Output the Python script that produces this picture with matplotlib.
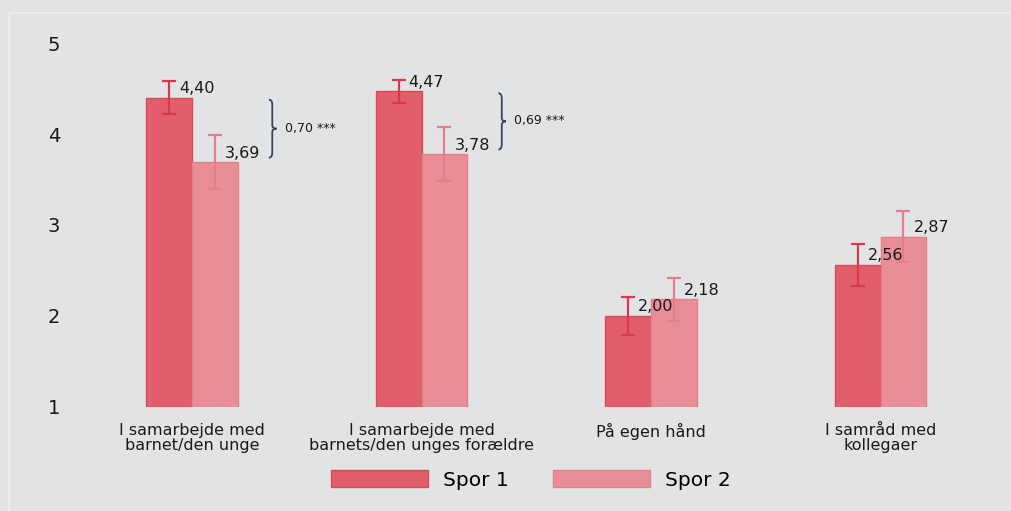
import matplotlib
matplotlib.use("Agg")
import matplotlib.pyplot as plt
from matplotlib.path import Path
from matplotlib.patches import PathPatch, Patch
from matplotlib.lines import Line2D
import numpy as np

categories = [
    'I samarbejde med\nbarnet/den unge',
    'I samarbejde med\nbarnets/den unges forældre',
    'På egen hånd',
    'I samråd med\nkollegaer',
]
spor1 = [4.40, 4.47, 2.00, 2.56]
spor2 = [3.69, 3.78, 2.18, 2.87]
spor1_err = [0.18, 0.13, 0.21, 0.23]
spor2_err = [0.30, 0.30, 0.24, 0.28]
diff_groups = [0, 1]
diff_labels = ['0,70 ***', '0,69 ***']
series_names = ['Spor 1', 'Spor 2']

BG = '#e2e3e5'
C1 = '#e15e6a'
C2 = '#e98e97'
E1 = '#d8384b'
E2 = '#e67d88'
BRACE = '#3b4262'

W, H = 1011, 511
fig = plt.figure(figsize=(W / 100, H / 100), dpi=100, facecolor=BG)

# faint inner frame
fig.add_artist(Line2D([9 / W, 1], [1 - 13 / H, 1 - 13 / H], transform=fig.transFigure,
                      color='#ebecee', lw=1.5))
fig.add_artist(Line2D([9 / W, 9 / W], [0, 1 - 13 / H], transform=fig.transFigure,
                      color='#ebecee', lw=1.5))

# axes placed in pixels: group 0 centre at px 192, 229.5 px per group
left_px, right_px = 70, 1000
top_px, bot_px = 43.3, 406.5
ax = fig.add_axes([left_px / W, 1 - bot_px / H, (right_px - left_px) / W, (bot_px - top_px) / H])
ax.set_facecolor(BG)
ax.set_xlim((left_px - 192) / 229.5, (right_px - 192) / 229.5)
ax.set_ylim(1, 5)

x = np.arange(len(categories))
bw = 0.2
ax.bar(x - bw / 2, np.array(spor1) - 1, bw, bottom=1, color=C1, edgecolor='#d94a59', lw=1, zorder=2)
ax.bar(x + bw / 2, np.array(spor2) - 1, bw, bottom=1, color=C2, edgecolor='#e37f89', lw=1, zorder=2)
ax.errorbar(x - bw / 2, spor1, yerr=spor1_err, fmt='none', ecolor=E1, elinewidth=1.6,
            capsize=4.8, capthick=1.6, zorder=3)
ax.errorbar(x + bw / 2, spor2, yerr=spor2_err, fmt='none', ecolor=E2, elinewidth=1.6,
            capsize=4.8, capthick=1.6, zorder=3)

for xs, vals in ((x - bw / 2, spor1), (x + bw / 2, spor2)):
    for xi, v in zip(xs, vals):
        ax.annotate(f'{v:.2f}'.replace('.', ','), (xi, v), xytext=(10, 9),
                    textcoords='offset pixels', ha='left', va='center',
                    fontsize=11.5, color='#1a1a1a', zorder=5)

# curly braces for the significant differences
def brace(xl, y_lo, y_hi, w):
    ym = (y_lo + y_hi) / 2
    xm = xl + w * 0.45
    verts = [(xl, y_hi), (xm, y_hi), (xm, y_hi - 0.06),
             (xm, ym + 0.04),
             (xm, ym), (xl + w, ym),
             (xm, ym), (xm, ym - 0.04),
             (xm, y_lo + 0.06),
             (xm, y_lo), (xl, y_lo)]
    codes = [Path.MOVETO, Path.CURVE3, Path.CURVE3,
             Path.LINETO,
             Path.CURVE3, Path.CURVE3,
             Path.CURVE3, Path.CURVE3,
             Path.LINETO,
             Path.CURVE3, Path.CURVE3]
    ax.add_patch(PathPatch(Path(verts, codes), fill=False, edgecolor=BRACE, lw=1.3, zorder=4))

for g, lab in zip(diff_groups, diff_labels):
    brace(g + 0.335, spor2[g] + 0.05, spor1[g] - 0.02, 0.033)
    ax.text(g + 0.405, (spor1[g] + spor2[g]) / 2 + 0.02, lab, fontsize=9,
            color='#1a1a1a', ha='left', va='center')

ax.set_xticks(x)
ax.set_xticklabels(categories, fontsize=11.5, color='#1a1a1a', linespacing=1.02)
ax.set_yticks([1, 2, 3, 4, 5])
ax.set_yticklabels(['1', '2', '3', '4', '5'], fontsize=14, color='#1a1a1a')
ax.tick_params(axis='x', length=0, pad=12)
ax.tick_params(axis='y', length=0, pad=7)
for s in ax.spines.values():
    s.set_visible(False)

handles = [Patch(facecolor=C1, edgecolor='#d94a59'), Patch(facecolor=C2, edgecolor='#e37f89')]
fig.legend(handles, series_names, loc='center', bbox_to_anchor=(531 / W, 1 - 480 / H),
           ncol=2, frameon=False, fontsize=14.5, handlelength=4.8, handleheight=0.9,
           handletextpad=0.75, columnspacing=2.2)

fig.savefig('out.png', dpi=100, facecolor=BG)
